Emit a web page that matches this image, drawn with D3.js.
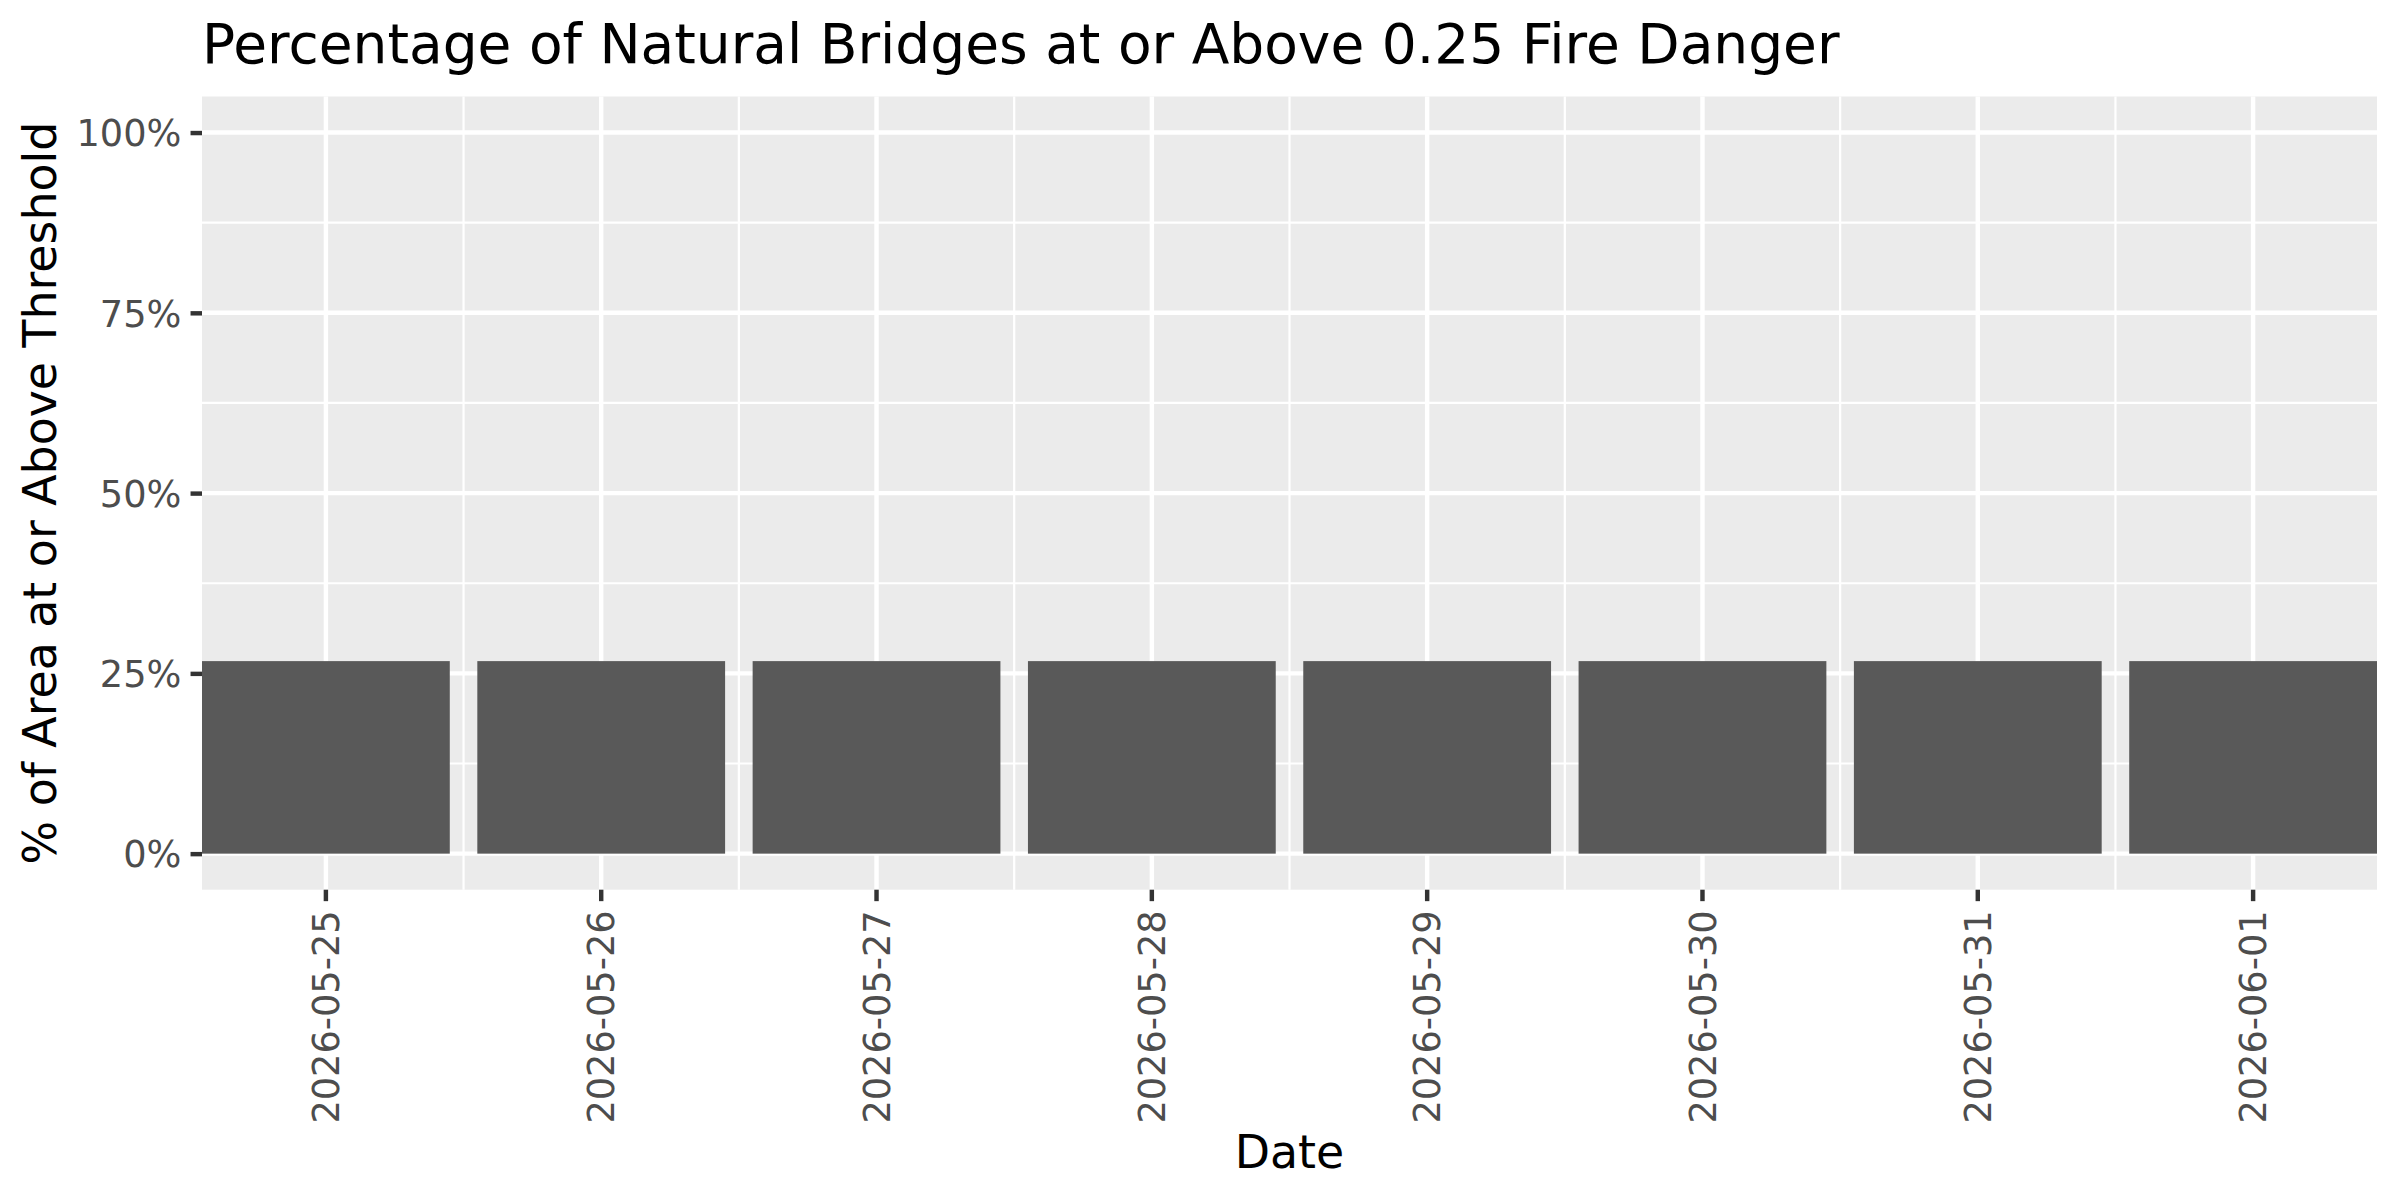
<!DOCTYPE html>
<html>
<head>
<meta charset="utf-8">
<script src="https://cdn.jsdelivr.net/npm/d3@7"></script>
<style>
  html, body { margin: 0; padding: 0; background: #fff; }
  svg { display: block; font-family: "DejaVu Sans", sans-serif; }
</style>
</head>
<body>
<svg id="chart" width="2400" height="1200"></svg>
<script>
// ---- data ----
const dates = ["2026-05-25","2026-05-26","2026-05-27","2026-05-28","2026-05-29","2026-05-30","2026-05-31","2026-06-01"];
const percentValues = [26.7, 26.7, 26.7, 26.7, 26.7, 26.7, 26.7, 26.7];
const yTicks = [0, 25, 50, 75, 100];
const yMinorTicks = [12.5, 37.5, 62.5, 87.5];
const titleText = "Percentage of Natural Bridges at or Above 0.25 Fire Danger";
const xTitle = "Date";
const yTitle = "% of Area at or Above Threshold";

// ---- layout ----
const W = 2400, H = 1200;
const panel = { left: 202, right: 2377, top: 96.5, bottom: 889.7 };
const majorW = 4.44, minorW = 2.22, tickLen = 11.46, tickPad = 9.2;

const svg = d3.select("#chart");

const x = d3.scaleBand().domain(dates).range([panel.left, panel.right]).paddingInner(0.1).paddingOuter(0);
const y = d3.scaleLinear().domain([-5, 105]).range([panel.bottom, panel.top]);
const cx = d => x(d) + x.bandwidth() / 2;

// panel background
svg.append("rect")
  .attr("x", panel.left).attr("y", panel.top)
  .attr("width", panel.right - panel.left).attr("height", panel.bottom - panel.top)
  .attr("fill", "#EBEBEB");

const grid = svg.append("g");
// minor horizontal
grid.selectAll(".hmin").data(yMinorTicks).enter().append("line")
  .attr("x1", panel.left).attr("x2", panel.right)
  .attr("y1", d => y(d)).attr("y2", d => y(d))
  .attr("stroke", "#fff").attr("stroke-width", minorW);
// minor vertical (between categories)
const xMinor = dates.slice(0, -1).map((d, i) => (cx(d) + cx(dates[i + 1])) / 2);
grid.selectAll(".vmin").data(xMinor).enter().append("line")
  .attr("y1", panel.top).attr("y2", panel.bottom)
  .attr("x1", d => d).attr("x2", d => d)
  .attr("stroke", "#fff").attr("stroke-width", minorW);
// major horizontal
grid.selectAll(".hmaj").data(yTicks).enter().append("line")
  .attr("x1", panel.left).attr("x2", panel.right)
  .attr("y1", d => y(d)).attr("y2", d => y(d))
  .attr("stroke", "#fff").attr("stroke-width", majorW);
// major vertical
grid.selectAll(".vmaj").data(dates).enter().append("line")
  .attr("y1", panel.top).attr("y2", panel.bottom)
  .attr("x1", d => cx(d)).attr("x2", d => cx(d))
  .attr("stroke", "#fff").attr("stroke-width", majorW);

// bars
svg.append("g").selectAll("rect").data(dates).enter().append("rect")
  .attr("x", d => x(d))
  .attr("width", x.bandwidth())
  .attr("y", (d, i) => y(percentValues[i]))
  .attr("height", (d, i) => y(0) - y(percentValues[i]))
  .attr("fill", "#595959");

// y axis
const yAxis = svg.append("g")
  .attr("transform", `translate(${panel.left},0)`)
  .call(d3.axisLeft(y).tickValues(yTicks).tickFormat(d => d + "%").tickSize(tickLen).tickPadding(tickPad));
yAxis.select(".domain").remove();
yAxis.selectAll(".tick line").attr("stroke", "#333333").attr("stroke-width", majorW);
yAxis.selectAll(".tick text")
  .attr("fill", "#4D4D4D")
  .attr("font-size", 36.7)
  .attr("font-family", "DejaVu Sans")
  .attr("dy", "0.36em");

// x axis
const xAxis = svg.append("g")
  .attr("transform", `translate(0,${panel.bottom})`)
  .call(d3.axisBottom(x).tickSize(tickLen).tickPadding(tickPad));
xAxis.select(".domain").remove();
xAxis.selectAll(".tick line").attr("stroke", "#333333").attr("stroke-width", majorW);
xAxis.selectAll(".tick text")
  .attr("fill", "#4D4D4D")
  .attr("font-size", 36.7)
  .attr("font-family", "DejaVu Sans")
  .attr("transform", "rotate(-90)")
  .attr("text-anchor", "end")
  .attr("x", -(tickLen + tickPad))
  .attr("y", 0)
  .attr("dy", "0.36em");

// title
svg.append("text")
  .attr("x", panel.left).attr("y", 62.7)
  .attr("font-size", 55).attr("fill", "#000")
  .text(titleText);

// x title
svg.append("text")
  .attr("x", (panel.left + panel.right) / 2).attr("y", 1168.3)
  .attr("text-anchor", "middle")
  .attr("font-size", 45.8).attr("fill", "#000")
  .text(xTitle);

// y title
svg.append("text")
  .attr("transform", `translate(56,${(panel.top + panel.bottom) / 2}) rotate(-90)`)
  .attr("text-anchor", "middle")
  .attr("font-size", 45.8).attr("fill", "#000")
  .text(yTitle);
</script>
</body>
</html>
